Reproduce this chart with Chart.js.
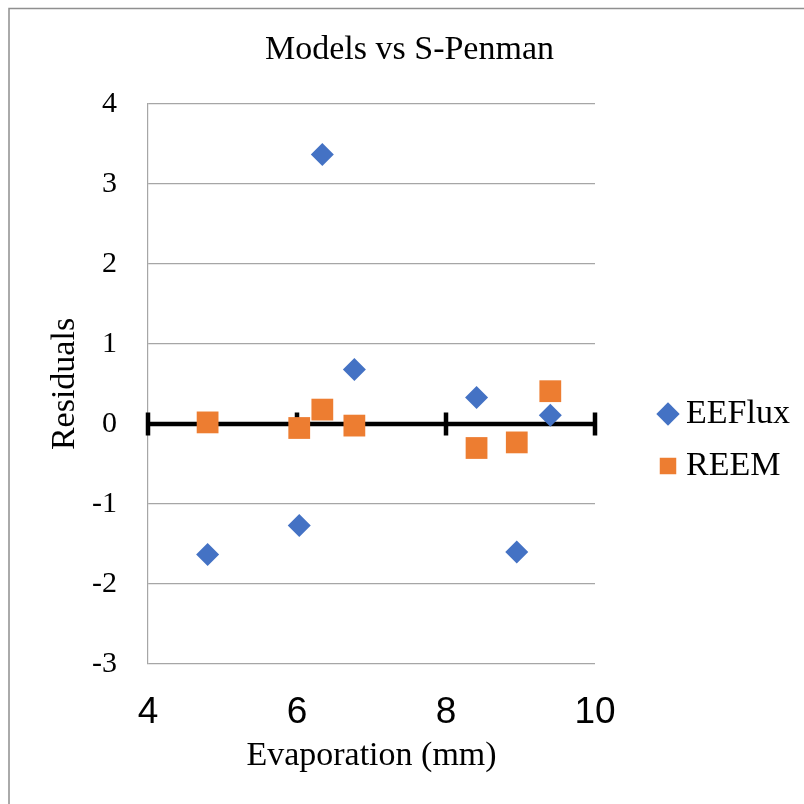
<!DOCTYPE html>
<html>
<head>
<meta charset="utf-8">
<script src="https://cdn.jsdelivr.net/npm/chart.js@4.4.1/dist/chart.umd.min.js"></script>
<style>
  html, body { margin: 0; padding: 0; background: #ffffff; }
  #wrap { width: 804px; height: 804px; position: relative; }
</style>
</head>
<body>
<div id="wrap"><canvas id="c" width="804" height="804"></canvas></div>
<script>
// ---- data ----
const evaporation = [4.80, 6.03, 6.34, 6.77, 8.41, 8.95, 9.40];
const eefluxResiduals = [-1.63, -1.27, 3.37, 0.68, 0.33, -1.60, 0.11];
const reemResiduals = [0.02, -0.05, 0.18, -0.02, -0.30, -0.23, 0.41];
const seriesNames = ['EEFlux', 'REEM'];
const xTicks = [4, 6, 8, 10];
const yTicks = [-3, -2, -1, 0, 1, 2, 3, 4];
const chartTitle = 'Models vs S-Penman';
const xTitle = 'Evaporation (mm)';
const yTitle = 'Residuals';

const pts = (xs, ys) => xs.map((x, i) => ({ x: x, y: ys[i] }));

const serif = "'Liberation Serif', 'Times New Roman', serif";
const sans = "'Liberation Sans', Arial, sans-serif";

// outer chart border (left/top visible)
const borderPlugin = {
  id: 'outerBorder',
  beforeDraw(chart) {
    const ctx = chart.ctx;
    ctx.save();
    ctx.fillStyle = '#ffffff';
    ctx.fillRect(0, 0, chart.width, chart.height);
    ctx.strokeStyle = '#8f8f8f';
    ctx.lineWidth = 1.5;
    ctx.beginPath();
    ctx.moveTo(9, chart.height);
    ctx.lineTo(9, 8.5);
    ctx.lineTo(chart.width, 8.5);
    ctx.stroke();
    ctx.restore();
  }
};

// horizontal axis drawn at y = 0 with cross tick marks
const zeroAxisPlugin = {
  id: 'zeroAxis',
  beforeDatasetsDraw(chart) {
    const xs = chart.scales.x, ys = chart.scales.y;
    const ctx = chart.ctx;
    const y0 = ys.getPixelForValue(0);
    ctx.save();
    ctx.strokeStyle = '#000000';
    ctx.lineWidth = 4.5;
    ctx.lineCap = 'butt';
    ctx.beginPath();
    ctx.moveTo(xs.getPixelForValue(xs.min), y0);
    ctx.lineTo(xs.getPixelForValue(xs.max), y0);
    ctx.stroke();
    ctx.beginPath();
    xs.ticks.forEach(t => {
      const px = xs.getPixelForValue(t.value);
      ctx.moveTo(px, y0 - 11.5);
      ctx.lineTo(px, y0 + 11.5);
    });
    ctx.stroke();
    ctx.restore();
  }
};

new Chart(document.getElementById('c'), {
  type: 'scatter',
  data: {
    datasets: [
      {
        label: seriesNames[0],
        data: pts(evaporation, eefluxResiduals),
        pointStyle: 'rectRot',
        pointRadius: 11.5,
        pointHoverRadius: 11.5,
        backgroundColor: '#4472C4',
        borderColor: '#4472C4',
        borderWidth: 0
      },
      {
        label: seriesNames[1],
        data: pts(evaporation, reemResiduals),
        pointStyle: 'rect',
        pointRadius: 15.4,
        pointHoverRadius: 15.4,
        backgroundColor: '#ED7D31',
        borderColor: '#ED7D31',
        borderWidth: 0
      }
    ]
  },
  options: {
    responsive: false,
    animation: false,
    devicePixelRatio: 1,
    layout: { padding: { top: 8, left: 20, right: 5, bottom: 0 } },
    plugins: {
      tooltip: { enabled: false },
      title: {
        display: true,
        text: chartTitle,
        color: '#000000',
        font: { family: serif, size: 34, weight: 'normal' },
        padding: { top: 22, bottom: 33.2 }
      },
      legend: {
        display: true,
        position: 'right',
        align: 'center',
        maxWidth: 150,
        title: { display: true, text: '', font: { size: 10 }, padding: { top: 56, bottom: 0 } },
        labels: {
          usePointStyle: true,
          boxWidth: 2,
          boxHeight: 16.5,
          padding: 18,
          color: '#000000',
          font: { family: serif, size: 34 }
        }
      }
    },
    scales: {
      x: {
        type: 'linear',
        position: 'bottom',
        min: 4,
        max: 10,
        afterBuildTicks(scale) { scale.ticks = xTicks.map(v => ({ value: v })); },
        afterFit(scale) { scale.height = 140; },
        grid: { display: false, drawTicks: false },
        border: { display: false },
        ticks: {
          color: '#000000',
          font: { family: sans, size: 37 },
          padding: 27,
          maxRotation: 0,
          autoSkip: false
        },
        title: {
          display: true,
          text: xTitle,
          color: '#000000',
          font: { family: serif, size: 34 },
          padding: { top: 0, bottom: 28 }
        }
      },
      y: {
        type: 'linear',
        position: 'left',
        min: -3,
        max: 4,
        afterBuildTicks(scale) { scale.ticks = yTicks.map(v => ({ value: v })); },
        afterFit(scale) { scale.width = 128; },
        grid: { color: '#a6a6a6', lineWidth: 1.2, drawTicks: false },
        border: { display: true, color: '#a6a6a6', width: 1.2 },
        ticks: {
          color: '#000000',
          font: { family: serif, size: 30 },
          padding: 31
        },
        title: {
          display: true,
          text: yTitle,
          color: '#000000',
          font: { family: serif, size: 34 },
          padding: { top: 24.6, bottom: 0 }
        }
      },
      gap: {
        type: 'linear',
        position: 'right',
        display: true,
        afterFit(scale) { scale.width = 54; },
        grid: { display: false, drawTicks: false },
        border: { display: false },
        ticks: { display: false },
        title: { display: false }
      }
    }
  },
  plugins: [borderPlugin, zeroAxisPlugin]
});
</script>
</body>
</html>
